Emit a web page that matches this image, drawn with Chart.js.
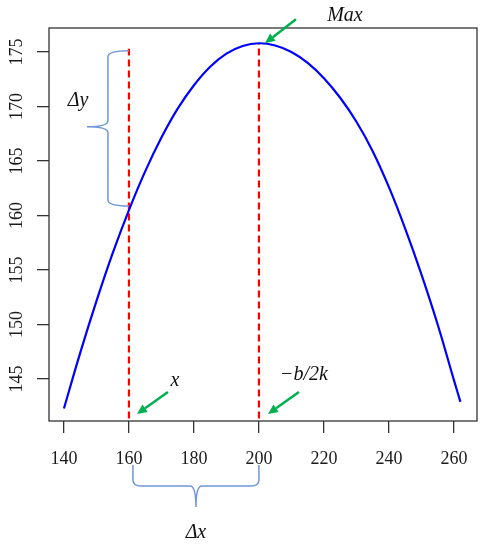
<!DOCTYPE html>
<html>
<head>
<meta charset="utf-8">
<script src="https://cdn.jsdelivr.net/npm/chart.js@4"></script>
<style>
  html, body { margin: 0; padding: 0; background: #fff; }
  #wrap { width: 486px; height: 550px; }
</style>
</head>
<body>
<div id="wrap"><canvas id="chart"></canvas></div>
<script>
// curve
const xs = [140, 145, 150, 155, 160, 165, 170, 175, 180, 185, 190, 195, 200,
            205, 210, 215, 220, 225, 230, 235, 240, 245, 250, 255, 260, 262];
const ys = [142.3, 147.4, 152.15, 156.55, 160.5, 164.05, 167.15, 169.8, 171.95, 173.65, 174.85, 175.55, 175.8,
            175.6, 175.0, 174.0, 172.6, 170.8, 168.6, 165.9, 162.6, 158.8, 154.6, 150.0, 144.9, 142.9];

// the two dashed markers: x position and top value
const markX = [160, 200];
const markTop = [175.3, 175.8];

const xTicks = [140, 160, 180, 200, 220, 240, 260];
const yTicks = [145, 150, 155, 160, 165, 170, 175];

const serif = "'Liberation Serif', 'DejaVu Serif', serif";
const braceColor = '#7097d8';
const arrowColor = '#00b050';

function arrow(ctx, x1, y1, x2, y2) {
    const a = Math.atan2(y2 - y1, x2 - x1);
    const len = 10, w = 4.5;
    const bx = x2 - len * Math.cos(a), by = y2 - len * Math.sin(a);
    ctx.strokeStyle = arrowColor;
    ctx.fillStyle = arrowColor;
    ctx.lineWidth = 2.5;
    ctx.beginPath();
    ctx.moveTo(x1, y1);
    ctx.lineTo(bx, by);
    ctx.stroke();
    ctx.beginPath();
    ctx.moveTo(x2, y2);
    ctx.lineTo(bx + w * Math.sin(a), by - w * Math.cos(a));
    ctx.lineTo(bx - w * Math.sin(a), by + w * Math.cos(a));
    ctx.closePath();
    ctx.fill();
}

const extras = {
    id: 'extras',
    afterDraw(chart) {
        const ctx = chart.ctx;
        const area = chart.chartArea;
        const sx = chart.scales.x, sy = chart.scales.y;
        ctx.save();

        // box
        ctx.strokeStyle = '#333';
        ctx.lineWidth = 1.3;
        ctx.strokeRect(area.left, area.top, area.right - area.left, area.bottom - area.top);

        // rotated y labels
        ctx.fillStyle = '#1a1a1a';
        ctx.font = '18px ' + serif;
        ctx.textAlign = 'center';
        ctx.textBaseline = 'middle';
        yTicks.forEach(v => {
            ctx.save();
            ctx.translate(area.left - 32, sy.getPixelForValue(v));
            ctx.rotate(-Math.PI / 2);
            ctx.fillText(String(v), 0, 0);
            ctx.restore();
        });

        // braces
        ctx.strokeStyle = braceColor;
        ctx.lineWidth = 1.5;
        const bx = sx.getPixelForValue(markX[0]);
        const yt = sy.getPixelForValue(markTop[0]) + 2;
        const yb = sy.getPixelForValue(ys[xs.indexOf(markX[0])]) - 4;
        const xc = bx - 21, xp = bx - 42, ym = yt + 76;
        ctx.beginPath();
        ctx.moveTo(bx, yt);
        ctx.quadraticCurveTo(xc, yt, xc, yt + 6);
        ctx.lineTo(xc, ym - 6);
        ctx.quadraticCurveTo(xc, ym, xp, ym);
        ctx.quadraticCurveTo(xc, ym, xc, ym + 6);
        ctx.lineTo(xc, yb - 6);
        ctx.quadraticCurveTo(xc, yb, bx, yb);
        ctx.stroke();

        const lx = sx.getPixelForValue(markX[0]) + 4, rx = sx.getPixelForValue(markX[1]);
        const ty = area.bottom + 44, hy = area.bottom + 65, py = area.bottom + 86;
        const cx = (lx + rx) / 2;
        ctx.beginPath();
        ctx.moveTo(lx, ty);
        ctx.lineTo(lx, hy - 6);
        ctx.quadraticCurveTo(lx, hy, lx + 8, hy);
        ctx.lineTo(cx - 6, hy);
        ctx.quadraticCurveTo(cx, hy, cx, py);
        ctx.quadraticCurveTo(cx, hy, cx + 6, hy);
        ctx.lineTo(rx - 8, hy);
        ctx.quadraticCurveTo(rx, hy, rx, hy - 6);
        ctx.lineTo(rx, ty);
        ctx.stroke();

        // arrows
        const peakX = sx.getPixelForValue(markX[1]), peakY = sy.getPixelForValue(markTop[1]);
        arrow(ctx, peakX + 37, peakY - 24, peakX + 6, peakY);
        const x1 = sx.getPixelForValue(markX[0]);
        arrow(ctx, x1 + 39, area.bottom - 29, x1 + 8, area.bottom - 7);
        arrow(ctx, rx + 40, area.bottom - 29, rx + 9, area.bottom - 7);

        // labels
        ctx.fillStyle = '#111';
        ctx.font = 'italic 20px ' + serif;
        ctx.textAlign = 'center';
        ctx.textBaseline = 'alphabetic';
        ctx.fillText('Max', peakX + 86, 21);
        ctx.fillText('Δy', xp - 9, ym - 21);
        ctx.fillText('x', x1 + 46, area.bottom - 35);
        ctx.fillText('−b/2k', rx + 45, area.bottom - 41);
        ctx.fillText('Δx', cx, area.bottom + 117);
        ctx.restore();
    }
};

const markers = markX.map((x, i) => ({
    data: [{ x: x, y: 100 }, { x: x, y: markTop[i] }],
    borderColor: '#ff0000',
    borderWidth: 2.2,
    borderDash: [7, 4],
    pointRadius: 0,
    showLine: true,
    fill: false
}));

new Chart(document.getElementById('chart'), {
    type: 'scatter',
    data: {
        datasets: [{
            data: xs.map((x, i) => ({ x: x, y: ys[i] })),
            borderColor: '#0000ff',
            borderWidth: 2.2,
            pointRadius: 0,
            showLine: true,
            tension: 0.4,
            fill: false
        }].concat(markers)
    },
    options: {
        responsive: true,
        maintainAspectRatio: false,
        animation: false,
        layout: { padding: { top: 28, right: 9, left: 0, bottom: 0 } },
        plugins: {
            legend: { display: false },
            tooltip: { enabled: false }
        },
        scales: {
            x: {
                type: 'linear',
                min: 135.4,
                max: 267.1,
                afterFit: (s) => { s.height = 129; },
                afterBuildTicks: (s) => { s.ticks = xTicks.map(v => ({ value: v })); },
                border: { display: false },
                grid: { drawOnChartArea: false, drawTicks: true, tickLength: 12, tickColor: '#333', lineWidth: 1.3 },
                ticks: {
                    includeBounds: false,
                    color: '#1a1a1a',
                    padding: 15,
                    maxRotation: 0,
                    font: { family: serif, size: 18 }
                }
            },
            y: {
                type: 'linear',
                min: 141.15,
                max: 177.2,
                afterFit: (s) => { s.width = 49; },
                afterBuildTicks: (s) => { s.ticks = yTicks.map(v => ({ value: v })); },
                border: { display: false },
                grid: { drawOnChartArea: false, drawTicks: true, tickLength: 12, tickColor: '#333', lineWidth: 1.3 },
                ticks: { display: false, includeBounds: false }
            }
        }
    },
    plugins: [extras]
});
</script>
</body>
</html>
